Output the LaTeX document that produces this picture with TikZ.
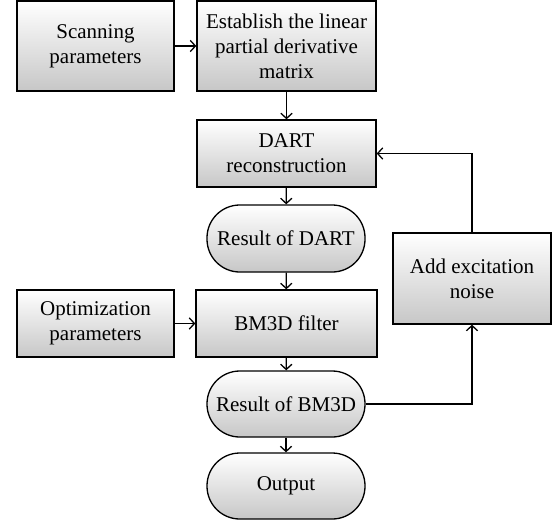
\documentclass[tikz,border=0pt]{standalone}
\usepackage{fontspec}
\setmainfont{Liberation Serif}
\usetikzlibrary{arrows.meta}

\tikzset{
  box/.style={draw, top color=white, bottom color=black!22, align=center,
    inner sep=1pt, font=\fontsize{10.5}{12.5}\selectfont},
  term/.style={box, rounded corners=16.4pt},
  flow/.style={-{Straight Barb[length=2.6pt,width=5.6pt]}}
}

\begin{document}
\begin{tikzpicture}[x=0.5pt, y=-0.5pt, line width=0.65pt]

    \useasboundingbox (0,0) rectangle (556,525);
    % left column
    \node[box, minimum width=78.5pt, minimum height=45pt] (scan) at (95.5,46) {Scanning\\parameters};
    \node[box, minimum width=78.5pt, minimum height=33.5pt] (opt) at (95.5,323.5) {Optimization\\parameters};
    % main column
    \node[box, minimum width=89.5pt, minimum height=45pt] (pdm) at (286.5,46) {Establish the linear\\partial derivative\\matrix};
    \node[box, minimum width=89.5pt, minimum height=33.5pt] (dart) at (286.5,153.5) {DART\\reconstruction};
    \node[term, minimum width=79pt, minimum height=33.5pt] (resdart) at (286,238.5) {Result of DART};
    \node[box, minimum width=90.5pt, minimum height=33.5pt] (bm3d) at (286.5,323.5) {BM3D filter};
    \node[term, minimum width=79pt, minimum height=33pt] (resbm) at (286,404) {Result of BM3D};
    \node[term, minimum width=79pt, minimum height=33pt] (out) at (286,486) {Output};
    % feedback
    \node[box, minimum width=79pt, minimum height=45.5pt] (noise) at (472,278.5) {Add excitation\\noise};

    \draw[flow] (scan) -- (pdm);
    \draw[flow] (opt) -- (bm3d);
    \draw[flow] (pdm) -- (dart);
    \draw[flow] (dart) -- (resdart);
    \draw[flow] (resdart) -- (bm3d);
    \draw[flow] (bm3d) -- (resbm);
    \draw[flow] (resbm) -- (out);
    \draw[flow] (resbm.east) -| (noise.south);
    \draw[flow] (noise.north) |- (dart.east);

  \end{tikzpicture}
\end{document}
